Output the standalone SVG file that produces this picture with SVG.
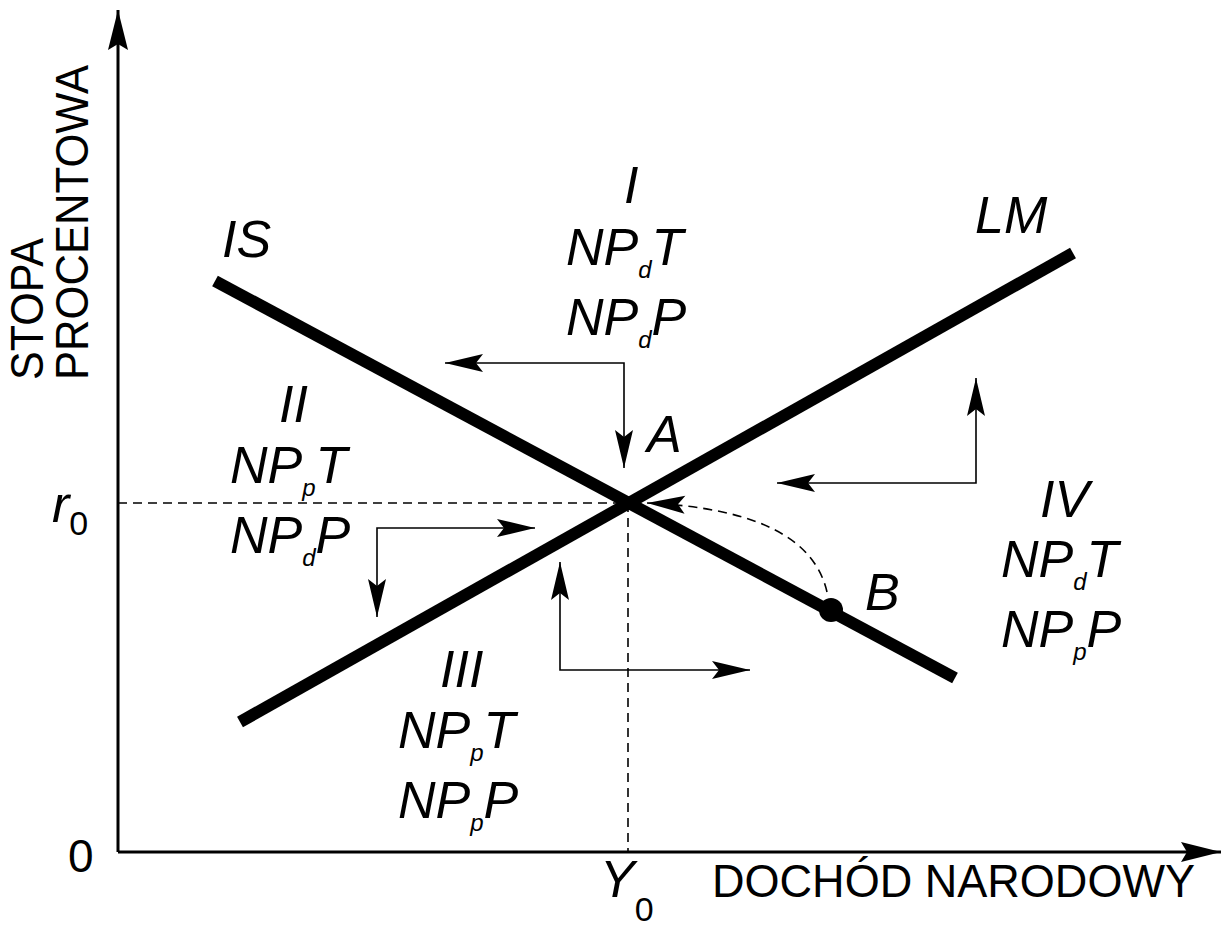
<svg xmlns="http://www.w3.org/2000/svg" width="1225" height="932" viewBox="0 0 1225 932">
<style>
.lbl{font-family:"Liberation Sans",Arial,sans-serif;font-style:italic;font-size:52px;fill:#000}
.up{font-family:"Liberation Sans",Arial,sans-serif;font-size:46px;fill:#000}
.sub{font-size:24px}
.num{font-size:34px;font-style:normal}
.thick{stroke:#000;stroke-width:12;fill:none}
.thin{stroke:#000;stroke-width:1.6;fill:none}
.axis{stroke:#000;stroke-width:3;fill:none}
.dash{stroke:#000;stroke-width:1.6;fill:none;stroke-dasharray:9 6}
</style>
<defs>
<marker id="ah" markerUnits="userSpaceOnUse" markerWidth="40" markerHeight="20" refX="38" refY="10" orient="auto-start-reverse" overflow="visible">
<path d="M38,10 L0,1 L7,10 L0,19 Z" fill="#000"/>
</marker>
<marker id="axh" markerUnits="userSpaceOnUse" markerWidth="42" markerHeight="22" refX="40" refY="11" orient="auto" overflow="visible">
<path d="M40,11 L0,1 L6,11 L0,21 Z" fill="#000"/>
</marker>
</defs>
<rect width="1225" height="932" fill="#fff"/>
<g id="axes">
<path class="axis" d="M118,852 L118,10" marker-end="url(#axh)"/>
<path class="axis" d="M118,852 L1221,852" marker-end="url(#axh)"/>
<text class="up" transform="translate(43,380) rotate(-90)" font-size="40" textLength="142" lengthAdjust="spacingAndGlyphs">STOPA</text>
<text class="up" transform="translate(88,380) rotate(-90)" font-size="40" textLength="315" lengthAdjust="spacingAndGlyphs">PROCENTOWA</text>
<text class="up" x="68" y="872" font-size="48">0</text>
<text class="up" x="712" y="897" textLength="483" lengthAdjust="spacingAndGlyphs">DOCHÓD NARODOWY</text>
</g>
<g id="guides">
<path class="dash" d="M118,503 L628,503"/>
<path class="dash" d="M628,503 L628,852"/>
<text class="lbl" x="52" y="522">r<tspan class="num" dy="13">0</tspan></text>
<text class="lbl" x="600" y="897">Y<tspan class="num" dy="24">0</tspan></text>
</g>
<g id="IS">
<path class="thick" d="M215,281 L955,678"/>
<text class="lbl" x="222" y="257">IS</text>
</g>
<g id="LM">
<path class="thick" d="M240,722 L1073,253"/>
<text class="lbl" x="975" y="233">LM</text>
</g>
<g id="pointA">
<text class="lbl" x="647" y="452">A</text>
</g>
<g id="pointB">
<circle cx="831" cy="610" r="12" fill="#000"/>
<text class="lbl" x="865" y="610">B</text>
</g>
<g id="quadI">
<text class="lbl" x="624" y="203">I</text>
<text class="lbl" x="566" y="265">NP<tspan class="sub" dy="13">d</tspan><tspan dy="-13">T</tspan></text>
<text class="lbl" x="566" y="335">NP<tspan class="sub" dy="13">d</tspan><tspan dy="-13">P</tspan></text>
</g>
<g id="quadII">
<text class="lbl" x="279" y="422">II</text>
<text class="lbl" x="230" y="483">NP<tspan class="sub" dy="13">p</tspan><tspan dy="-13">T</tspan></text>
<text class="lbl" x="230" y="553">NP<tspan class="sub" dy="13">d</tspan><tspan dy="-13">P</tspan></text>
</g>
<g id="quadIII">
<text class="lbl" x="440" y="687">III</text>
<text class="lbl" x="398" y="748">NP<tspan class="sub" dy="13">p</tspan><tspan dy="-13">T</tspan></text>
<text class="lbl" x="398" y="818">NP<tspan class="sub" dy="13">p</tspan><tspan dy="-13">P</tspan></text>
</g>
<g id="quadIV">
<text class="lbl" x="1040" y="517">IV</text>
<text class="lbl" x="1001" y="577">NP<tspan class="sub" dy="13">d</tspan><tspan dy="-13">T</tspan></text>
<text class="lbl" x="1001" y="647">NP<tspan class="sub" dy="13">p</tspan><tspan dy="-13">P</tspan></text>
</g>
<g id="connectors">
<polyline class="thin" points="445,363 624,363 624,468" marker-start="url(#ah)" marker-end="url(#ah)"/>
<polyline class="thin" points="777,483 976,483 976,378" marker-start="url(#ah)" marker-end="url(#ah)"/>
<polyline class="thin" points="377,617 377,528 535,528" marker-start="url(#ah)" marker-end="url(#ah)"/>
<polyline class="thin" points="560,562 560,670 750,670" marker-start="url(#ah)" marker-end="url(#ah)"/>
<path class="dash" d="M827,592 C815,540 760,508 647,503" marker-end="url(#ah)"/>
</g>
</svg>
